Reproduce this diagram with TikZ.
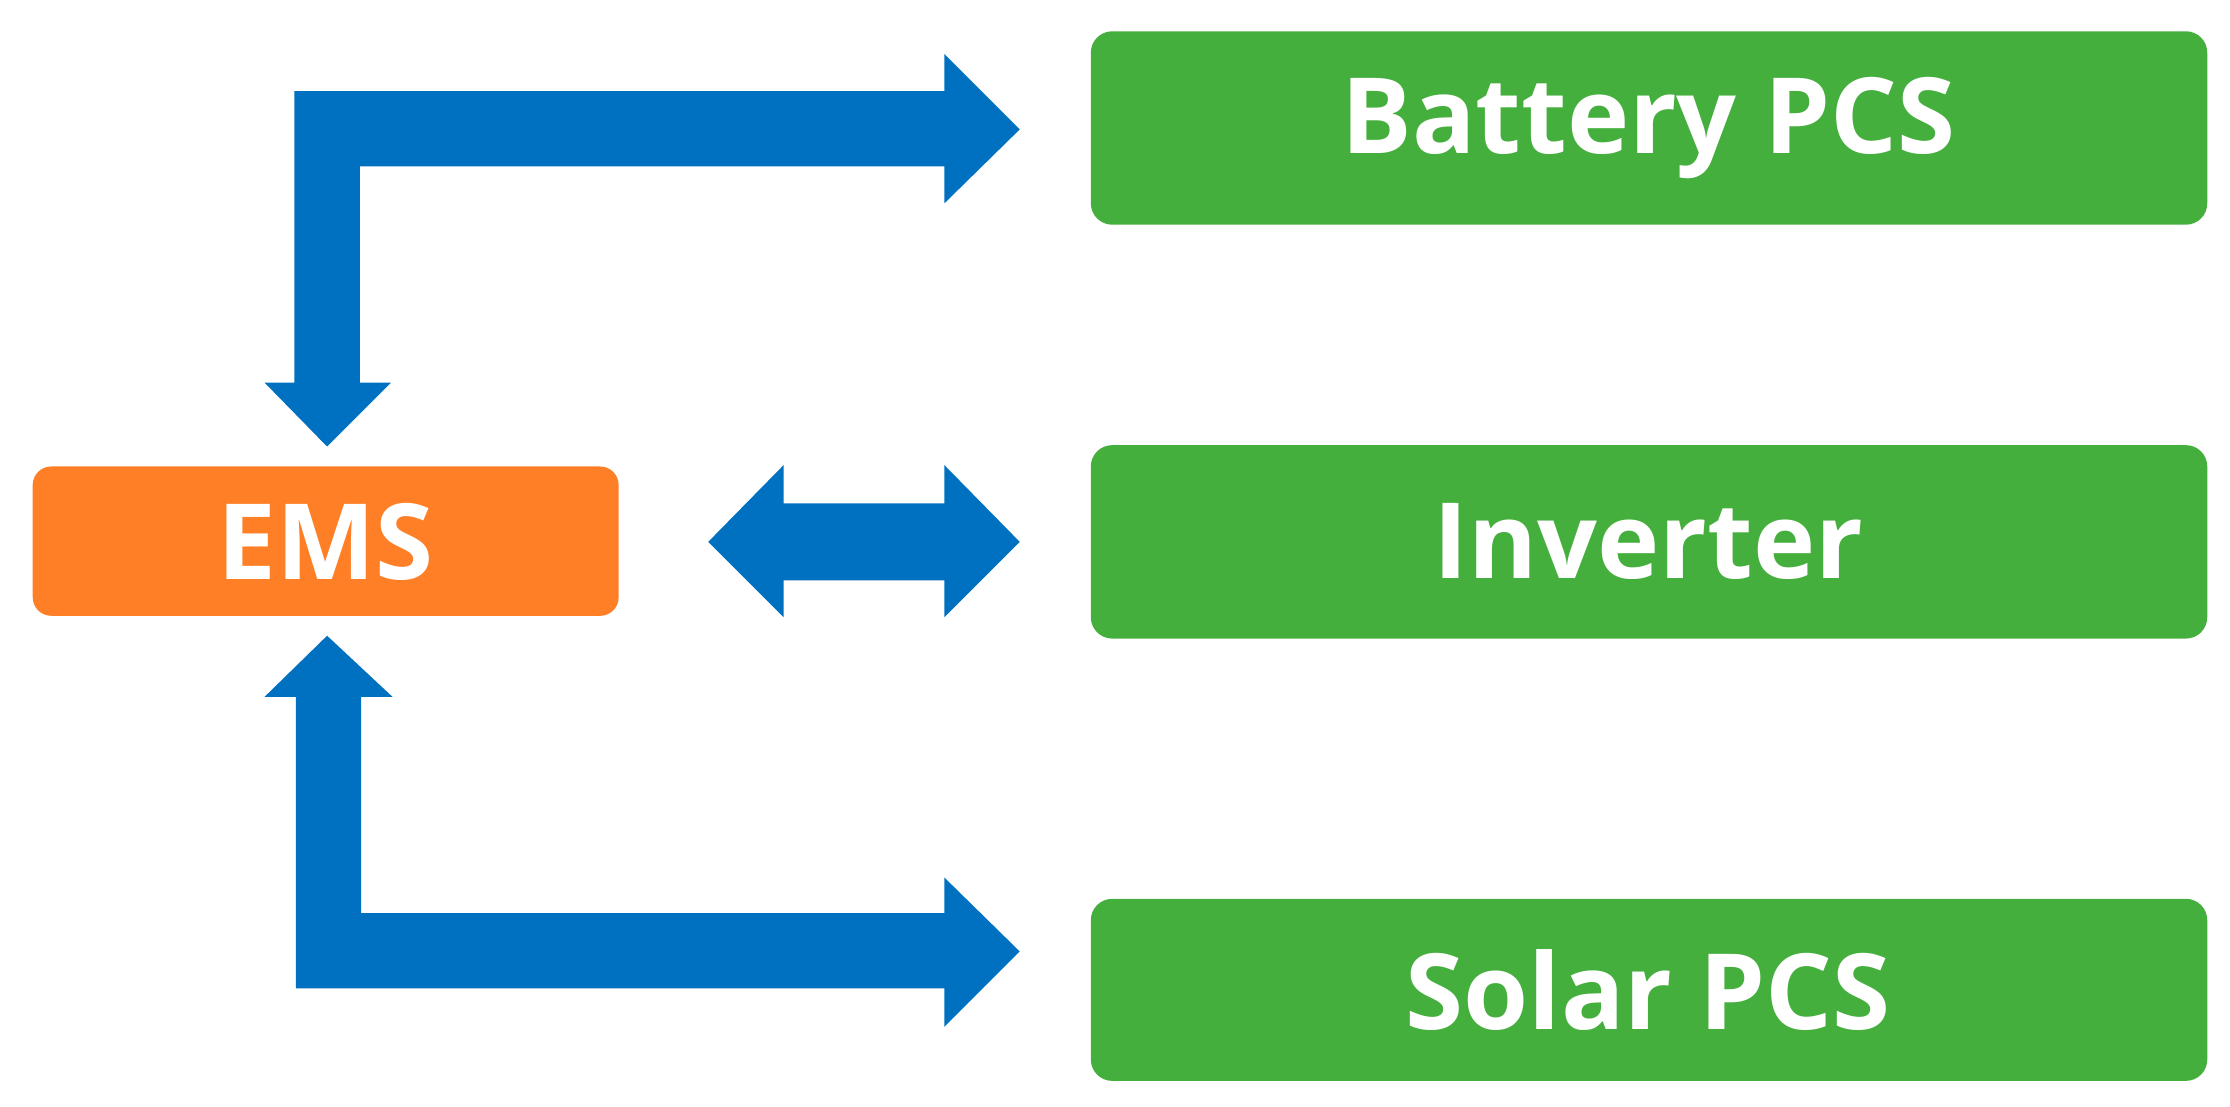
\documentclass[tikz,border=0pt]{standalone}
\usepackage{fontspec}
\setmainfont{Open Sans}
\definecolor{gr}{HTML}{45AF3D}
\definecolor{og}{HTML}{FF7F27}
\definecolor{bl}{HTML}{0070C0}
\begin{document}
\begin{tikzpicture}[x=1pt,y=-1pt,
  box/.style={rounded corners=15pt,text=white,font=\fontsize{76}{80}\selectfont\bfseries},
  arr/.style={fill=bl,draw=none}]
\useasboundingbox (0,0) rectangle (1568,778);
\fill[gr,rounded corners=15pt] (767,22) rectangle (1552,158);
\node[text=white,font=\fontsize{74}{80}\selectfont\bfseries] (bat) at (1159,90) {Battery PCS};
\fill[gr,rounded corners=15pt] (767,313) rectangle (1552,449);
\node[text=white,font=\fontsize{74}{80}\selectfont\bfseries] (inv) at (1159,381) {Inverter};
\fill[gr,rounded corners=15pt] (767,632) rectangle (1552,760);
\node[text=white,font=\fontsize{74}{80}\selectfont\bfseries] (sol) at (1159,696) {Solar PCS};
\fill[og,rounded corners=13pt] (23,328) rectangle (435,433);
\node[text=white,font=\fontsize{74}{80}\selectfont\bfseries] (ems) at (229,381) {EMS};
% top arrow
\fill[arr] (253,269) -- (253,117) -- (664,117) -- (664,143) -- (717,91) -- (664,38) -- (664,64)
  -- (207,64) -- (207,269) -- (186,269) -- (230,314) -- (275,269) -- cycle;
% middle double arrow
\fill[arr] (498,381) -- (551,327) -- (551,354) -- (664,354) -- (664,327) -- (717,381)
  -- (664,434) -- (664,408) -- (551,408) -- (551,434) -- cycle;
% bottom arrow
\fill[arr] (254,490) -- (254,642) -- (664,642) -- (664,617) -- (717,669) -- (664,722) -- (664,695)
  -- (208,695) -- (208,490) -- (186,490) -- (230,447) -- (276,490) -- cycle;
\end{tikzpicture}
\end{document}
